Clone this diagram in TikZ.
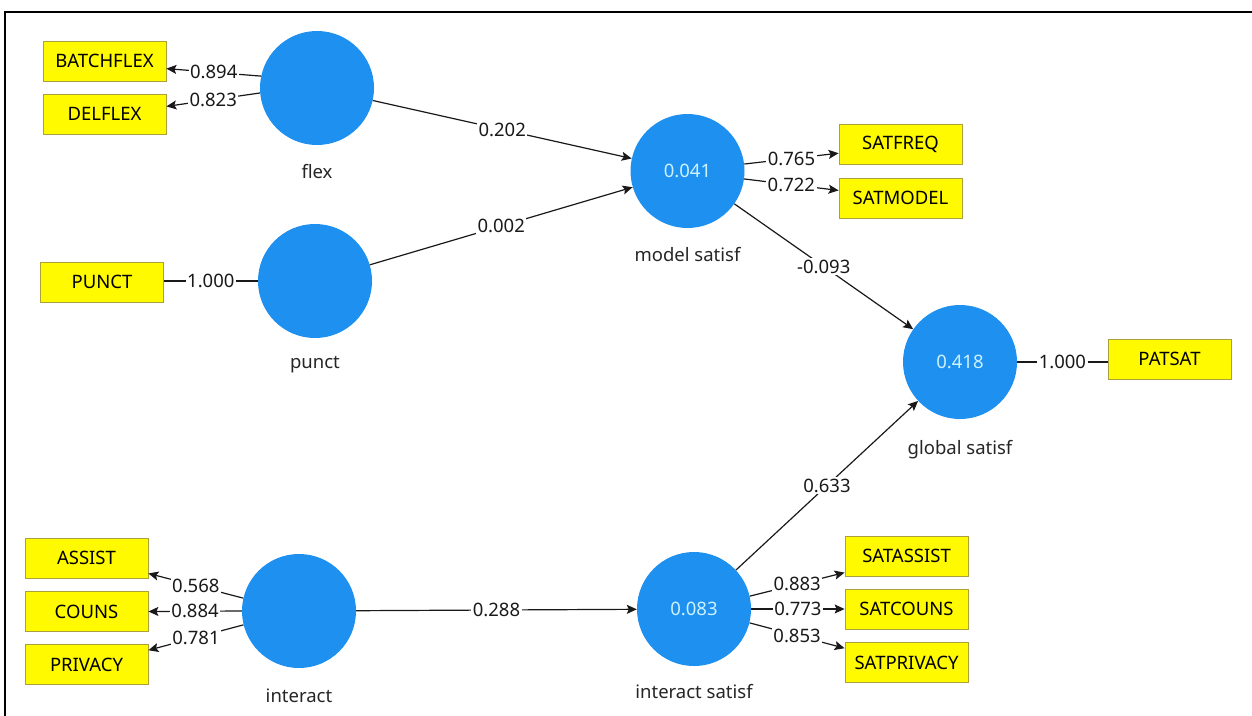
\documentclass[tikz,border=0pt]{standalone}
\usepackage{fontspec}
\setmainfont{Noto Sans}
\usetikzlibrary{arrows.meta}
\definecolor{lvblue}{RGB}{30,144,240}
\definecolor{lvtext}{RGB}{205,242,255}
\definecolor{indfill}{RGB}{255,250,0}
\definecolor{indborder}{RGB}{170,160,60}
\tikzset{
  every node/.style={font=\fontsize{18.5}{21}\selectfont},
  latent/.style={circle, fill=lvblue, draw=none, minimum size=114pt, inner sep=0pt, text=lvtext},
  indicator/.style={rectangle, fill=indfill, draw=indborder, line width=0.8pt, minimum width=123pt, minimum height=40pt, inner sep=0pt},
  lvname/.style={text=black!85},
  wlabel/.style={fill=white, inner sep=1.5pt, text=black!90, midway},
  conn/.style={line width=1.2pt, black!90},
  arr/.style={conn, -{Stealth[length=10pt,width=9pt,inset=2pt]}},
}
\begin{document}
\begin{tikzpicture}[x=1pt,y=-1pt]
\useasboundingbox (0,0) rectangle (1252,715);
\fill[white] (0,0) rectangle (1252,715);
\draw[line width=2.2pt, line cap=rect] (5,715) -- (5,12) -- (1252,12);

% latent variables
\node[latent] (flex) at (317,88) {};
\node[latent] (punct) at (315,281) {};
\node[latent] (interact) at (299,611) {};
\node[latent] (model) at (687.5,171) {0.041};
\node[latent] (global) at (960,362) {0.418};
\node[latent] (isat) at (694,609) {0.083};

% names
\node[lvname] (flexL) at (317,172) {flex};
\node[lvname] (punctL) at (315,365) {punct};
\node[lvname] (interactL) at (299,696) {interact};
\node[lvname] (modelL) at (687.5,255) {model satisf};
\node[lvname] (globalL) at (960,450) {global satisf};
\node[lvname] (isatL) at (694,692) {interact satisf};

% indicators
\node[indicator] (BATCHFLEX) at (104.5,61) {BATCHFLEX};
\node[indicator] (DELFLEX) at (104.5,114) {DELFLEX};
\node[indicator] (PUNCT) at (102,282) {PUNCT};
\node[indicator] (ASSIST) at (86.5,558) {ASSIST};
\node[indicator] (COUNS) at (86.5,611.5) {COUNS};
\node[indicator] (PRIVACY) at (86.5,664.5) {PRIVACY};
\node[indicator] (SATFREQ) at (900.5,144.5) {SATFREQ};
\node[indicator] (SATMODEL) at (900.5,198) {SATMODEL};
\node[indicator] (PATSAT) at (1169.5,359) {PATSAT};
\node[indicator] (SATASSIST) at (906.5,556) {SATASSIST};
\node[indicator] (SATCOUNS) at (906.5,609) {SATCOUNS};
\node[indicator] (SATPRIVACY) at (906.5,662.5) {SATPRIVACY};

% outer model
\draw[arr] (flex.168) -- node[wlabel] {0.894} (BATCHFLEX.-7);
\draw[arr] (flex.185) -- node[wlabel] {0.823} (DELFLEX.7);
\draw[conn] (punct.west) -- node[wlabel] {1.000} (PUNCT.east |- punct.west);
\draw[arr] (interact.167) -- node[wlabel] {0.568} (ASSIST.-14);
\draw[arr] (interact.west) -- node[wlabel] {0.884} (COUNS.east);
\draw[arr] (interact.194) -- node[wlabel] {0.781} (PRIVACY.13);
\draw[arr] (model.7) -- node[wlabel] {0.765} (SATFREQ.188);
\draw[arr] (model.-8) -- node[wlabel] {0.722} (SATMODEL.173);
\draw[conn] (global.east) -- node[wlabel] {1.000} (PATSAT.west |- global.east);
\draw[arr] (isat.13) -- node[wlabel] {0.883} (SATASSIST.195);
\draw[arr] (isat.east) -- node[wlabel] {0.773} (SATCOUNS.west);
\draw[arr] (isat.-14) -- node[wlabel] {0.853} (SATPRIVACY.167);

% inner model
\draw[arr] (flex) -- node[wlabel] {0.202} (model);
\draw[arr] (punct) -- node[wlabel] {0.002} (model);
\draw[arr] (model) -- node[wlabel] {-0.093} (global);
\draw[arr] (interact) -- node[wlabel] {0.288} (isat);
\draw[arr] (isat) -- node[wlabel] {0.633} (global);
\end{tikzpicture}
\end{document}
